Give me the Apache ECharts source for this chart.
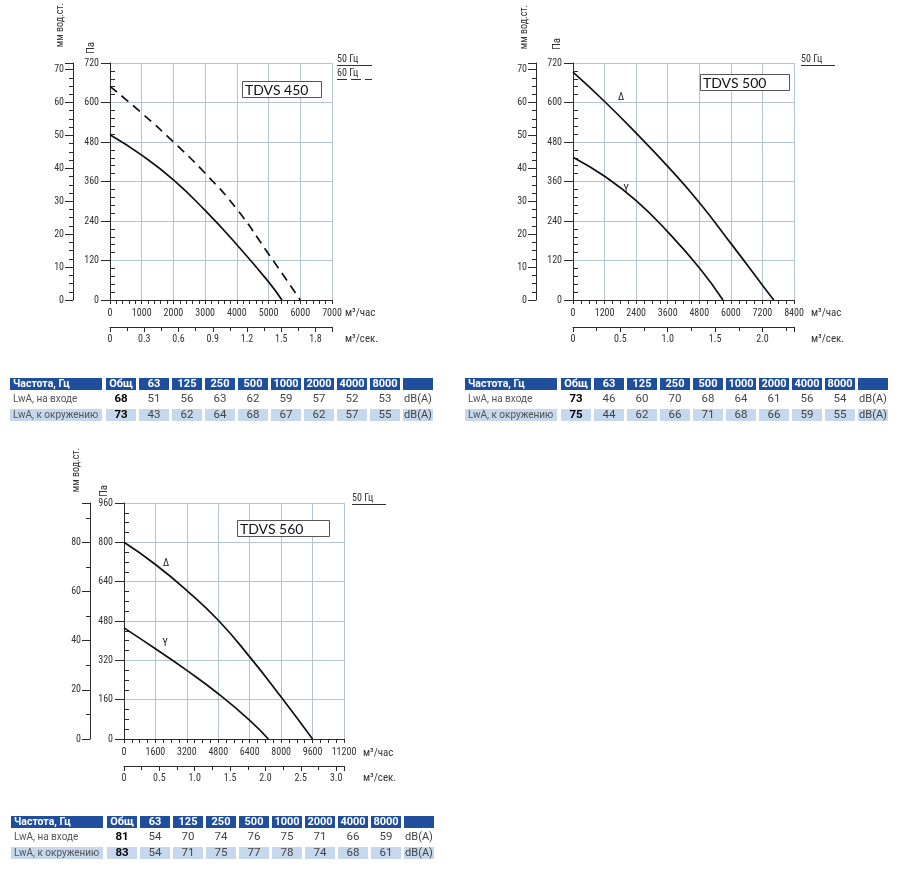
<!DOCTYPE html>
<html><head><meta charset="utf-8">
<script src="https://cdn.jsdelivr.net/npm/echarts@6/dist/echarts.min.js"></script>
<style>html,body{margin:0;padding:0;background:#fff}#c{width:900px;height:881px}</style>
</head><body><div id="c"></div>
<script>
// ---------- DATA ----------
// TDVS 450
const flow450_50 = [0, 1000, 2000, 3000, 4000, 5000, 5420];
const pa450_50   = [502, 440, 365, 272, 168, 55, 0];
const flow450_60 = [0, 1000, 2000, 3000, 4000, 5000, 6000];
const pa450_60   = [649, 568, 480, 385, 276, 140, 0];
// TDVS 500
const flow500_D = [0, 1200, 2400, 3600, 4800, 6000, 7200, 7630];
const pa500_D   = [692, 603, 507, 406, 296, 172, 45, 0];
const flow500_Y = [0, 1200, 2400, 3600, 4800, 5700];
const pa500_Y   = [434, 376, 302, 207, 98, 0];
// TDVS 560
const flow560_D = [0, 1600, 3200, 4800, 6400, 8000, 9600];
const pa560_D   = [800, 710, 604, 483, 334, 171, 0];
const flow560_Y = [0, 1600, 3200, 4800, 6400, 7350];
const pa560_Y   = [452, 367, 279, 184, 76, 0];

// axis ranges (m3/h, Pa, mm w.c., m3/s)
const flowMax = [7000, 8400, 11200];
const flowStep = [1000, 1200, 1600];
const paMax = [720, 720, 960];
const paStep = [120, 120, 160];
const mmStep = [10, 10, 20];
const secStep = [0.3, 0.5, 0.5];
const PA_PER_MM = 10;
const SEC_PER_HOUR = 3600;

// noise tables
const tableHeader = ['Частота, Гц', 'Общ', '63', '125', '250', '500', '1000', '2000', '4000', '8000', ''];
const rowNames = ['LwA, на входе', 'LwA, к окружению'];
const unitText = 'dB(A)';
const t450_in  = [68, 51, 56, 63, 62, 59, 57, 52, 53];
const t450_env = [73, 43, 62, 64, 68, 67, 62, 57, 55];
const t500_in  = [73, 46, 60, 70, 68, 64, 61, 56, 54];
const t500_env = [75, 44, 62, 66, 71, 68, 66, 59, 55];
const t560_in  = [81, 54, 70, 74, 76, 75, 71, 66, 59];
const t560_env = [83, 54, 71, 75, 77, 78, 74, 68, 61];

const titles = ['TDVS 450', 'TDVS 500', 'TDVS 560'];

// ---------- LAYOUT / STYLE ----------
const TICKFONT = '"Liberation Sans Narrow","Roboto Condensed","Liberation Sans",Arial,sans-serif';
const gridColor = '#b3c5d3';
const axisColor = '#2a2a2a';
const labelColor = '#333';

const layouts = [
  {grid:{left:110, top:63, width:222, height:237}, xMinor:5, yMinor:5, mmMinor:4, mmOffset:37},
  {grid:{left:573, top:63, width:221, height:237}, xMinor:4, yMinor:5, mmMinor:4, mmOffset:37},
  {grid:{left:124, top:503, width:220, height:236}, xMinor:4, yMinor:4, mmMinor:2, mmOffset:34}
];

function stepFmt(step, dec) {
  return function (v) {
    const r = v / step;
    if (Math.abs(r - Math.round(r)) > 1e-6) return '';
    return v === 0 ? '0' : (dec ? v.toFixed(dec) : String(Math.round(v)));
  };
}

const grids = [], xAxes = [], yAxes = [], series = [];
const lblStyle = {color: labelColor, fontSize: 10, fontFamily: TICKFONT};

layouts.forEach(function (L, k) {
  grids.push(Object.assign({outerBoundsMode: 'none', containLabel: false}, L.grid));
  // main flow axis
  xAxes.push({
    type: 'value', gridIndex: k, position: 'bottom', min: 0, max: flowMax[k], interval: flowStep[k],
    axisLine: {show: true, onZero: false, lineStyle: {color: axisColor, width: 1}},
    axisTick: {show: true, length: 4, lineStyle: {color: axisColor}},
    minorTick: {show: true, splitNumber: L.xMinor, length: 4, lineStyle: {color: axisColor}},
    splitLine: {show: true, lineStyle: {color: gridColor, width: 1}},
    axisLabel: Object.assign({margin: 8, formatter: stepFmt(flowStep[k], 0)}, lblStyle)
  });
  // m3/s axis
  xAxes.push({
    type: 'value', gridIndex: k, position: 'bottom', offset: 27, min: 0, max: flowMax[k] / SEC_PER_HOUR, interval: secStep[k],
    axisLine: {show: true, onZero: false, lineStyle: {color: axisColor, width: 1}},
    axisTick: {show: true, length: 5, lineStyle: {color: axisColor}},
    minorTick: {show: true, splitNumber: 2, length: 4, lineStyle: {color: axisColor}},
    splitLine: {show: false},
    axisLabel: Object.assign({margin: 7, formatter: stepFmt(secStep[k], 1)}, lblStyle)
  });
  // Pa axis
  yAxes.push({
    type: 'value', gridIndex: k, position: 'left', min: 0, max: paMax[k], interval: paStep[k],
    axisLine: {show: true, onZero: false, lineStyle: {color: axisColor, width: 1}},
    axisTick: {show: true, length: 9, lineStyle: {color: axisColor}},
    minorTick: {show: false},
    splitLine: {show: true, lineStyle: {color: gridColor, width: 1}},
    axisLabel: Object.assign({margin: 11}, lblStyle)
  });
  // Pa minor ticks (inside)
  yAxes.push({
    type: 'value', gridIndex: k, position: 'left', min: 0, max: paMax[k], interval: paStep[k],
    axisLine: {show: false, onZero: false},
    axisTick: {show: true, inside: true, length: 0.01, lineStyle: {color: 'rgba(0,0,0,0)'}},
    minorTick: {show: true, splitNumber: L.yMinor, length: 5, lineStyle: {color: axisColor}},
    splitLine: {show: false}, axisLabel: {show: false}
  });
  // mm w.c. axis
  yAxes.push({
    type: 'value', gridIndex: k, position: 'left', offset: L.mmOffset, min: 0, max: paMax[k] / PA_PER_MM, interval: mmStep[k],
    axisLine: {show: true, onZero: false, lineStyle: {color: axisColor, width: 1}},
    axisTick: {show: true, length: 8, lineStyle: {color: axisColor}},
    minorTick: {show: true, splitNumber: L.mmMinor, length: 4, lineStyle: {color: axisColor}},
    splitLine: {show: false},
    axisLabel: Object.assign({margin: 9, formatter: stepFmt(mmStep[k], 0)}, lblStyle)
  });
});

function curve(k, xs, ys, dashed) {
  series.push({
    type: 'line', xAxisIndex: 2 * k, yAxisIndex: 3 * k, smooth: 0.5, showSymbol: false, symbol: 'none',
    data: xs.map(function (x, i) { return [x, ys[i]]; }),
    lineStyle: {color: '#111', width: 1.7, type: dashed ? [9, 6] : 'solid'},
    z: 5, silent: true
  });
}
curve(0, flow450_50, pa450_50, false);
curve(0, flow450_60, pa450_60, true);
curve(1, flow500_D, pa500_D, false);
curve(1, flow500_Y, pa500_Y, false);
curve(2, flow560_D, pa560_D, false);
curve(2, flow560_Y, pa560_Y, false);

// ---------- GRAPHICS (texts, boxes, tables) ----------
const G = [];
function txt(x, y, s, opt) {
  opt = opt || {};
  G.push({type: 'text', x: x, y: y, rotation: opt.rot || 0, z: 100,
    style: {text: s, fill: opt.color || labelColor, font: opt.font || ('10px ' + TICKFONT),
      textAlign: opt.align || 'left', textVerticalAlign: opt.valign || 'middle'}});
}
function rect(x, y, w, h, fill, stroke) {
  G.push({type: 'rect', z: 90, shape: {x: x, y: y, width: w, height: h},
    style: {fill: fill, stroke: stroke || null, lineWidth: 1}});
}
function line(x1, y1, x2, y2, dash) {
  G.push({type: 'line', z: 90, shape: {x1: x1, y1: y1, x2: x2, y2: y2},
    style: {stroke: '#333', lineWidth: 1, lineDash: dash || null}});
}

// axis names
const axisNamePos = [
  {mm: [60, 25], pa: [91, 48], fx: 345, fy1: 313, fy2: 339},
  {mm: [524, 27], pa: [557, 44], fx: 811, fy1: 313, fy2: 339},
  {mm: [76, 470], pa: [104, 491], fx: 363, fy1: 753, fy2: 778}
];
axisNamePos.forEach(function (p) {
  txt(p.mm[0], p.mm[1], 'мм вод.ст.', {rot: Math.PI / 2, align: 'center'});
  txt(p.pa[0], p.pa[1], 'Па', {rot: Math.PI / 2, align: 'center', font: '11px ' + TICKFONT});
  txt(p.fx, p.fy1, 'м³/час', {font: '11px ' + TICKFONT});
  txt(p.fx, p.fy2, 'м³/сек.', {font: '11px ' + TICKFONT});
});

// title boxes
const boxPos = [[242.5, 81.5, 79, 16], [700.5, 74.5, 89, 16], [237.5, 520.5, 92, 16]];
boxPos.forEach(function (b, i) {
  rect(b[0], b[1], b[2], b[3], '#fff', '#555');
  txt(b[0] + 2.5, b[1] + b[3] / 2 + 0.5, titles[i], {color: '#111', font: '14px Lato, "Open Sans", sans-serif'});
});

// legends
txt(337, 59, '50 Гц', {font: '10px ' + TICKFONT});
line(337, 65.5, 372, 65.5);
txt(337, 73, '60 Гц', {font: '10px ' + TICKFONT});
line(337, 79.5, 372, 79.5, [10, 4]);
txt(801, 59, '50 Гц', {font: '10px ' + TICKFONT});
line(801, 65.5, 835, 65.5);
txt(352, 498, '50 Гц', {font: '10px ' + TICKFONT});
line(352, 504.5, 386, 504.5);

// curve labels
txt(621, 97, 'Δ', {align: 'center', font: '10px ' + TICKFONT, color: '#111'});
txt(626, 189, 'Y', {align: 'center', font: '10px ' + TICKFONT, color: '#111'});
txt(166, 563, 'Δ', {align: 'center', font: '10px ' + TICKFONT, color: '#111'});
txt(165, 643, 'Y', {align: 'center', font: '10px ' + TICKFONT, color: '#111'});

// tables
const TFONT = 'Roboto, "Noto Sans", sans-serif';
function table(x0, y0, inlet, env) {
  const firstW = 92, cellW = 30, pitch = 33, start = x0 + 96;
  const headBg = '#1f4f9c', lightBg = '#c5d8ee';
  rect(x0, y0, firstW, 12, headBg);
  txt(x0 + 3, y0 + 6.5, tableHeader[0], {color: '#fff', font: 'bold 10.5px ' + TFONT});
  for (let i = 1; i < tableHeader.length; i++) {
    const cx = start + (i - 1) * pitch;
    rect(cx, y0, cellW, 12, headBg);
    txt(cx + cellW / 2, y0 + 6.5, tableHeader[i], {color: '#fff', font: 'bold 11px ' + TFONT, align: 'center'});
  }
  const rows = [inlet, env];
  rows.forEach(function (vals, r) {
    const ry = y0 + 15 + r * 16;
    const cy = ry + 6;
    if (r === 1) {
      rect(x0, ry, firstW, 12, lightBg);
      for (let i = 0; i < 10; i++) rect(start + i * pitch, ry, cellW, 12, lightBg);
    }
    txt(x0 + 3, cy, rowNames[r], {color: '#555', font: '10px ' + TFONT});
    vals.forEach(function (v, i) {
      txt(start + i * pitch + cellW / 2, cy, String(v),
        {align: 'center', color: i === 0 ? '#000' : '#444', font: (i === 0 ? 'bold ' : '') + '11.5px ' + TFONT});
    });
    txt(start + 9 * pitch + cellW / 2, cy, unitText, {align: 'center', color: '#444', font: '11px ' + TFONT});
  });
}
table(10, 378, t450_in, t450_env);
table(465, 378, t500_in, t500_env);
table(11, 816, t560_in, t560_env);

const chart = echarts.init(document.getElementById('c'), null, {renderer: 'canvas', width: 900, height: 881});
chart.setOption({
  backgroundColor: '#fff',
  animation: false,
  grid: grids,
  xAxis: xAxes,
  yAxis: yAxes,
  series: series,
  graphic: {elements: G}
});
</script>
</body></html>
